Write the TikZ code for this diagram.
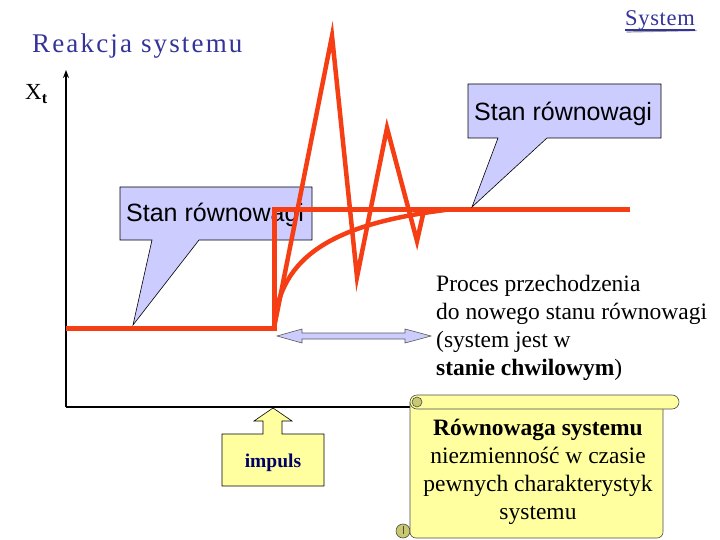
\documentclass[tikz,border=0pt]{standalone}
\usepackage{fontspec}
\setmainfont{Liberation Serif}
\newfontfamily\arialf{Liberation Sans}
\usetikzlibrary{arrows.meta}
\definecolor{orng}{RGB}{245,62,20}
\definecolor{lav}{RGB}{204,204,255}
\definecolor{ttl}{RGB}{51,51,153}
\definecolor{scr}{RGB}{255,255,160}
\definecolor{curlc}{RGB}{200,200,110}
\definecolor{navyc}{RGB}{0,0,102}
\tikzset{
  orline/.style={draw=orng,line width=5pt,line join=miter},
  callout/.style={fill=lav,draw=black,line width=0.6pt},
  calltext/.style={inner sep=0pt,anchor=base west,font=\arialf\fontsize{25}{28}\selectfont},
  serift/.style={inner sep=0pt,font=\fontsize{23.5}{28}\selectfont},
}
\begin{document}
\begin{tikzpicture}[x=1pt,y=-1pt]
\useasboundingbox (0,0) rectangle (720,540);

% titles
\node[inner sep=0pt,anchor=base west,text=ttl,font=\addfontfeature{LetterSpace=8}\fontsize{27}{30}\selectfont] (title) at (32,53) {Reakcja systemu};
\node[inner sep=0pt,anchor=base west,text=ttl,font=\addfontfeature{LetterSpace=3}\fontsize{22.5}{26}\selectfont] (sys) at (625,26) {System};
\draw[black!40,line width=1.2pt] ([yshift=-4.5pt]sys.base west) ++(1.5,1.5) -- ([yshift=-4.5pt,xshift=1.5pt]sys.base east);
\draw[ttl,line width=1.2pt] ([yshift=-4pt]sys.base west) -- ([yshift=-4pt]sys.base east);
\node[inner sep=0pt,anchor=base west,font=\fontsize{23}{26}\selectfont] (xt) at (25,100) {X$_{\mathbf{t}}$};

% axes
\coordinate (O) at (66,407);
\coordinate (Ytop) at (66,70);
\coordinate (Xend) at (414,407);
\draw[line width=2.2pt,-{Stealth[length=8pt,width=6pt]}] (O) -- (Ytop);
\draw[line width=2.2pt] (O) -- (Xend);

% callout left
\path[callout] (120,187) -- (312,187) -- (312,240) -- (199,240) -- (133,325) -- (152,240) -- (120,240) -- cycle;
\node[calltext] (c2) at (126,222) {Stan równowagi};

% orange response lines
\coordinate (A) at (66,328);
\coordinate (S0) at (274,328);
\coordinate (S1) at (274,210);
\coordinate (E) at (630,210);
\draw[orline] (A) -- (S0) -- (S1) -- (E);
\draw[orline,line width=4.5pt] (S0) -- (332,36) -- (357,277) -- (387,128) -- (417,241) -- (424,210);
\draw[orline,line width=4.5pt] (S0) .. controls (279,255) and (335,224) .. (445,210);

% callout right
\path[callout] (468,84) -- (661,84) -- (661,138) -- (547,138) -- (472,207) -- (498,138) -- (468,138) -- cycle;
\node[calltext] (c1) at (474,121) {Stan równowagi};

% double arrow
\path[fill=lav,draw=black!65,line width=0.6pt] (277,336) -- (302,329) -- (302,333) -- (405,333) -- (405,329) -- (431,336) -- (405,343) -- (405,339) -- (302,339) -- (302,343) -- cycle;

% process text (anchor base = baseline of last line)
\node[serift,anchor=base west,align=left] (proc) at (436,375) {Proces przechodzenia\\do nowego stanu równowagi\\(system jest w\\\textbf{stanie chwilowym})};

% impuls
\path[fill=scr,draw=black,line width=0.6pt] (222,434) -- (263,434) -- (263,421) -- (254,421) -- (273,408) -- (292,421) -- (282,421) -- (282,434) -- (324,434) -- (324,486) -- (222,486) -- cycle;
\node[inner sep=0pt,anchor=base,text=navyc,font=\bfseries\fontsize{19.5}{22}\selectfont] (imp) at (273,467) {impuls};

% scroll
\filldraw[fill=curlc,draw=black!70,line width=0.6pt] (403,531) circle[radius=7];
\filldraw[fill=scr,draw=black!70,line width=0.6pt,rounded corners=6] (410,402) -- (410,538) -- (663,538) -- (663,402);
\filldraw[fill=scr,draw=black!70,line width=0.6pt,rounded corners=7] (410,395) rectangle (679,409);
\filldraw[fill=curlc,draw=black!70,line width=0.6pt] (417,402) circle[radius=5];
\draw[draw=black!70,line width=0.6pt] (403,526) -- (403,534);
\node[serift,anchor=base,align=center] (eq) at (538,519) {\textbf{Równowaga systemu}\\niezmienność w czasie\\pewnych charakterystyk\\systemu};
\end{tikzpicture}
\end{document}
